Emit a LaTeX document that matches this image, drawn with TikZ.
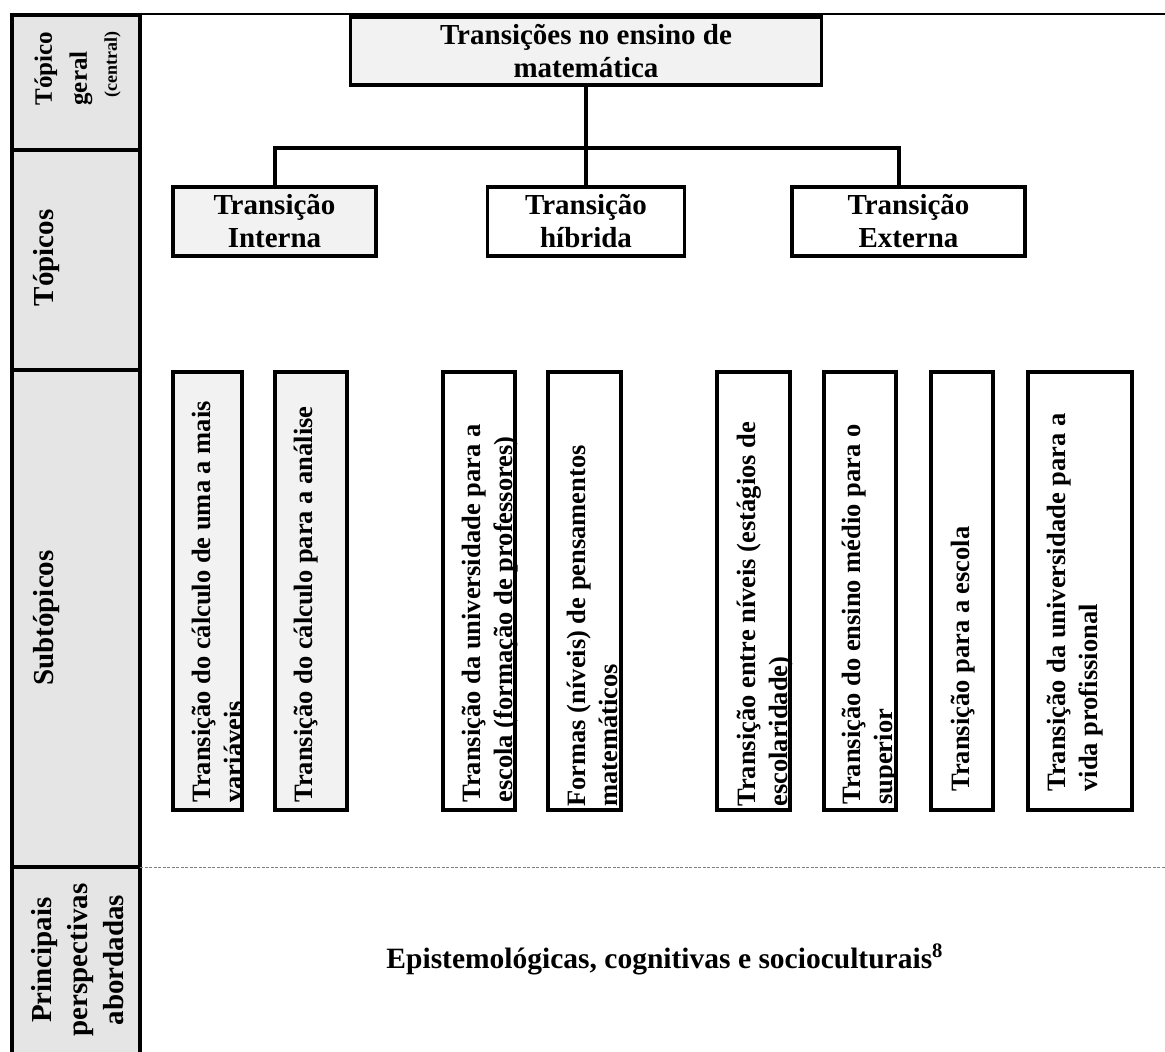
\documentclass[tikz,border=0pt]{standalone}
\usepackage{fontspec}
\setmainfont{Liberation Serif}

\begin{document}
\begin{tikzpicture}[x=0.5pt, y=-0.5pt]

	\def\colL{12}
	\def\colR{140}
	\def\rowtop{15}
	\def\rowA{150}
	\def\rowB{370}
	\def\rowC{867}
	\def\rowbot{1052}
	\def\busy{148}
	\def\subtop{591}

	% Colours
	\definecolor{headgray}{gray}{0.9}
	\definecolor{boxgray}{gray}{0.95}

	% Styles
	\tikzstyle{frame}=[line width=1.8pt]
	\tikzstyle{conn}=[line width=2pt]
	\tikzstyle{topicbox}=[draw, frame, align=center, inner sep=0pt, minimum height=34.5pt,
		font=\bfseries\fontsize{14.5}{16.5}\selectfont]
	\tikzstyle{subbox}=[draw, frame, inner sep=0pt, minimum height=219pt]
	\tikzstyle{subtext}=[rotate=90, anchor=north west, align=left, inner sep=0pt,
		font=\bfseries\fontsize{13.25}{16}\selectfont]
	\tikzstyle{headtext}=[rotate=90, inner sep=0pt, font=\bfseries\fontsize{14.5}{18}\selectfont]

	\useasboundingbox (0,0) rectangle (1165,1052);

	%== Header column =======================================================
	\fill[headgray] (\colL,\rowtop) rectangle (\colR,\rowbot);
	\draw[line width=1.6pt] (\colL,\rowbot) -- (\colL,\rowtop) -- (\colR,\rowtop) -- (\colR,\rowbot);
	\draw[line width=1.6pt] (\colL,\rowA) -- (\colR,\rowA);
	\draw[line width=1.6pt] (\colL,\rowB) -- (\colR,\rowB);
	\draw[line width=1.6pt] (\colL,\rowC) -- (\colR,\rowC);

	% Rules
	\draw[line width=1pt] (\colR,14) -- (1165,14);
	\draw[gray, line width=0.5pt, dash pattern=on 1.5pt off 0.75pt] (\colR,\rowC) -- (1165,\rowC);

	\node[headtext, align=left, anchor=north west, font=\bfseries\fontsize{12.5}{17.5}\selectfont] (hgeral) at (34,106)
		{Tópico\\geral\\[-2.5pt]\hspace*{4pt}{\fontsize{9}{10}\selectfont(central)}};
	\node[headtext, anchor=north] (htopics) at (33,258) {Tópicos};
	\node[headtext, anchor=north] (hsubtopics) at (33,618) {Subtópicos};
	\node[headtext, align=center] (hpersp) at (78,960) {Principais\\perspectivas\\abordadas};

	%== Topics ==============================================================
	\node[topicbox, fill=boxgray, minimum width=235.5pt, minimum height=34pt] (central) at (586,51)
		{Transições no ensino de\\matemática};

	\node[topicbox, fill=boxgray, minimum width=101.5pt] (intern) at (274.5,221.5) {Transição\\Interna};
	\node[topicbox, minimum width=98.5pt] (hybrid) at (586,221.5) {Transição\\híbrida};
	\node[topicbox, minimum width=116.5pt] (extern) at (908.5,221.5) {Transição\\Externa};

	\coordinate (bus) at (586,\busy);
	\draw[conn] (central) -- (hybrid);
	\draw[conn] (intern.north) |- (bus) -| ([xshift=-5pt]extern.north);

	%== Subtopics ===========================================================
	\node[subbox, fill=boxgray, minimum width=34.5pt] (calcvar) at (207.5,\subtop) {};
	\node[subbox, fill=boxgray, minimum width=36pt] (calcana) at (311,\subtop) {};
	\node[subbox, minimum width=36pt] (unischool) at (479,\subtop) {};
	\node[subbox, minimum width=36.5pt] (thinking) at (584.5,\subtop) {};
	\node[subbox, minimum width=36.5pt] (levels) at (753.5,\subtop) {};
	\node[subbox, minimum width=36pt] (highschool) at (860,\subtop) {};
	\node[subbox, minimum width=31pt] (toschool) at (962,\subtop) {};
	\node[subbox, minimum width=52pt] (unijob) at (1080,\subtop) {};

	\node[subtext] (tcalcvar) at (192,803) {Transição do cálculo de uma a mais\\variáveis};
	\node[subtext] (tcalcana) at (294,803) {Transição do cálculo para a análise};
	\node[subtext] (tunischool) at (462,803) {Transição da universidade para a\\escola (formação de professores)};
	\node[subtext] (tthinking) at (567,807) {Formas (níveis) de pensamentos\\matemáticos};
	\node[subtext] (tlevels) at (737,807) {Transição entre níveis (estágios de\\escolaridade)};
	\node[subtext] (thighschool) at (842,805) {Transição do ensino médio para o\\superior};
	\node[subtext] (ttoschool) at (951,792) {Transição para a escola};
	\node[subtext] (tunijob) at (1047,792) {Transição da universidade para a\\vida profissional};

	%== Perspectives ========================================================
	\node[anchor=base, inner sep=0pt, font=\bfseries\fontsize{14.75}{17}\selectfont] (perspectives) at (665,968)
		{Epistemológicas, cognitivas e socioculturais\textsuperscript{8}};

\end{tikzpicture}
\end{document}
